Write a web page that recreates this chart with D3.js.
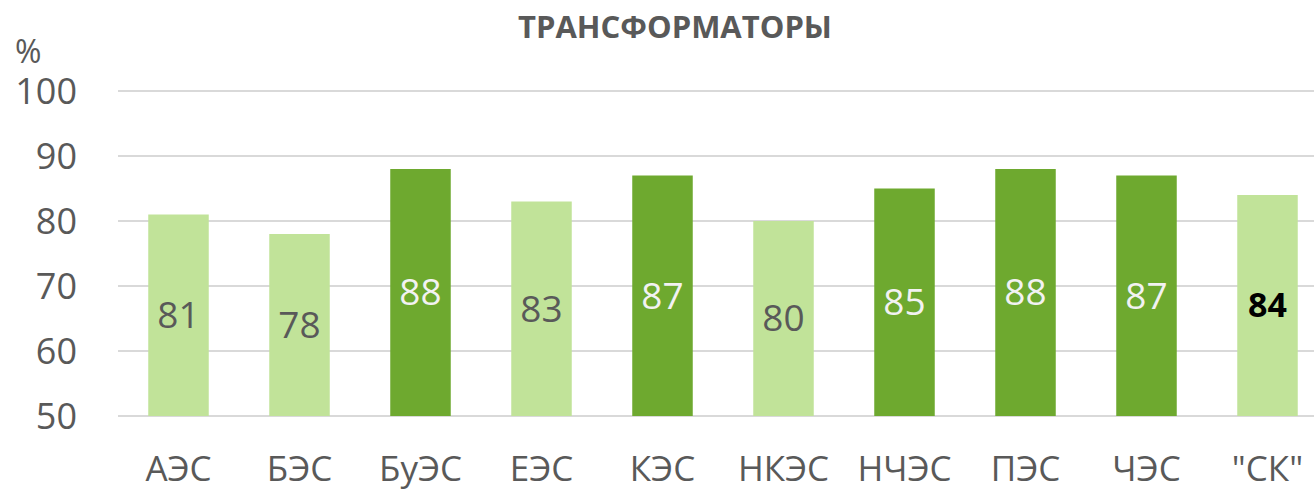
<!DOCTYPE html>
<html><head><meta charset="utf-8">
<script src="https://cdn.jsdelivr.net/npm/d3@7"></script>
<style>html,body{margin:0;padding:0;background:#fff;overflow:hidden}</style>
</head><body>
<svg id="chart" width="1314" height="489"></svg>
<script>
const categories = ["АЭС","БЭС","БуЭС","ЕЭС","КЭС","НКЭС","НЧЭС","ПЭС","ЧЭС","\"СК\""];
const values = [81,78,88,83,87,80,85,88,87,84];
const highlight = [false,false,true,false,true,false,true,true,true,false];
const totalFlag = [false,false,false,false,false,false,false,false,false,true];
const yTicks = [50,60,70,80,90,100];
const title = "ТРАНСФОРМАТОРЫ";
const unit = "%";

const svg = d3.select("#chart");
const font = "'Open Sans', sans-serif";
const x = d3.scaleBand().domain(categories).range([118,1328]).paddingInner(0.5).paddingOuter(0.25);
const y = d3.scaleLinear().domain([50,100]).range([416,91]);

// gridlines
svg.append("g").selectAll("line").data(yTicks).join("line")
  .attr("x1",118).attr("x2",1328)
  .attr("y1",d=>y(d)).attr("y2",d=>y(d))
  .attr("stroke","#d9d9d9").attr("stroke-width",2);

// y axis labels
const yAxis = d3.axisLeft(y).tickValues(yTicks).tickSize(0).tickPadding(0);
const gy = svg.append("g").attr("transform","translate(77,0)").call(yAxis);
gy.select(".domain").remove();
gy.selectAll("text").attr("font-family",font).attr("font-size",36).attr("fill","#595959").attr("dy","0.35em");

// bars
svg.append("g").selectAll("rect").data(values).join("rect")
  .attr("x",(d,i)=>x(categories[i]))
  .attr("width",x.bandwidth())
  .attr("y",d=>y(d))
  .attr("height",d=>y(50)-y(d))
  .attr("fill",(d,i)=>highlight[i]?"#6ea92f":"#c1e399");

// value labels
svg.append("g").selectAll("text").data(values).join("text")
  .attr("x",(d,i)=>x(categories[i])+x.bandwidth()/2)
  .attr("y",d=>(y(d)+y(50))/2)
  .attr("dy","0.35em")
  .attr("text-anchor","middle")
  .attr("font-family",font)
  .attr("font-size",(d,i)=>totalFlag[i]?34:37)
  .attr("font-weight",(d,i)=>totalFlag[i]?"bold":"normal")
  .attr("fill",(d,i)=>totalFlag[i]?"#000":(highlight[i]?"#f2f2f2":"#595959"))
  .text(d=>d);

// x axis labels
const xAxis = d3.axisBottom(x).tickSize(0).tickPadding(0);
const gx = svg.append("g").attr("transform","translate(0,469)").call(xAxis);
gx.select(".domain").remove();
gx.selectAll("text").attr("font-family",font).attr("font-size",35).attr("fill","#595959").attr("dy","0.35em");

// title
svg.append("text").attr("x",675).attr("y",27).attr("dy","0.35em").attr("text-anchor","middle")
  .attr("font-family",font).attr("font-size",31).attr("font-weight","bold").attr("fill","#595959").text(title);

// unit
svg.append("text").attr("x",15).attr("y",52).attr("dy","0.35em")
  .attr("font-family",font).attr("font-size",32).attr("fill","#595959").text(unit);
</script>
</body></html>
